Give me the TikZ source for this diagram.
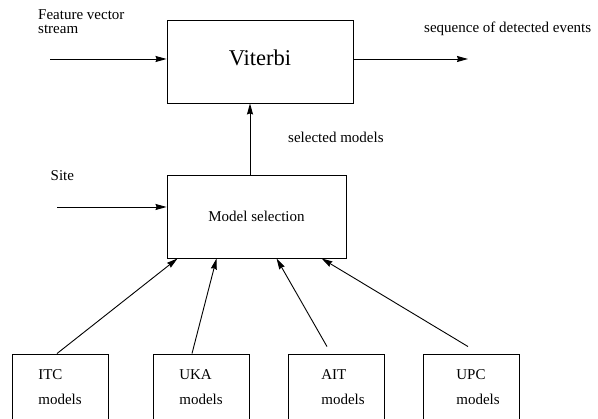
\documentclass[tikz,border=0pt]{standalone}
\usepackage{fontspec}
\setmainfont{Liberation Serif}
\usetikzlibrary{arrows.meta}
\begin{document}
\begin{tikzpicture}[x=1pt,y=1pt,
  box/.style={draw,line width=0.9pt,inner sep=0pt},
  modelbox/.style={minimum width=96pt,minimum height=66pt,align=left,font=\fontsize{15}{25}\selectfont},
  arr/.style={line width=0.9pt,-{Stealth[length=11pt,width=6pt,inset=1pt]}},
  lbl/.style={inner sep=0pt,align=left,font=\fontsize{15}{13.5}\selectfont}]
\useasboundingbox (0,0) rectangle (598,419);
\node[box,minimum width=186pt,minimum height=83pt,text depth=8pt,font=\fontsize{22.5}{27}\selectfont] (viterbi) at (260,357.5) {Viterbi};
\node[box,minimum width=179pt,minimum height=83pt,font=\fontsize{15}{18}\selectfont] (modsel) at (256.5,202.5) {Model selection};
\foreach \name/\lab/\x/\dx in {itc/ITC/60/0pt,uka/UKA/201/0pt,ait/AIT/336.5/13pt,upc/UPC/471.5/13pt}
  \node[box,modelbox] (\name) at (\x,32) {\hspace*{\dx}\lab\\\hspace*{\dx}models};
\coordinate (fvin) at (50,360);
\coordinate (evout) at (468,360);
\coordinate (sitein) at (57,212);
\coordinate (selup) at ([xshift=-6.5pt]modsel.north);
\draw[arr] (fvin) -- (fvin -| viterbi.west);
\draw[arr] (evout -| viterbi.east) -- (evout);
\draw[arr] (sitein) -- (sitein -| modsel.west);
\draw[arr] (selup) -- (selup |- viterbi.south);
\draw[arr] ([xshift=-3pt]itc.north) -- ([xshift=11pt]modsel.south west);
\draw[arr] ([xshift=-9pt]uka.north) -- ([xshift=50pt]modsel.south west);
\draw[arr] ([shift={(-9.5pt,7pt)}]ait.north) -- ([xshift=110pt]modsel.south west);
\draw[arr] ([shift={(-3.5pt,7pt)}]upc.north) -- ([xshift=155pt]modsel.south west);
\node[lbl,anchor=north west] (fvlbl) at (38,409.5) {Feature vector\\stream};
\node[lbl,anchor=base west] (evlbl) at (424,386.7) {sequence of detected events};
\node[lbl,anchor=base west] (sitelbl) at (50.5,238.3) {Site};
\node[lbl,anchor=base west] (sellbl) at (288,276) {selected models};
\end{tikzpicture}
\end{document}
